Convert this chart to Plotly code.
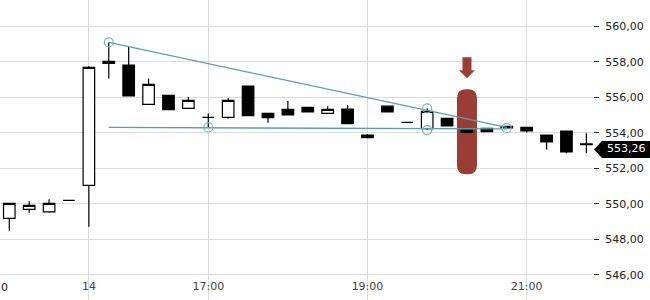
import plotly.graph_objects as go

# ---- data (15-minute candles) ----
times = ["14:30", "14:45", "15:00", "15:15", "15:30", "15:45", "16:00", "16:15",
         "16:30", "16:45", "17:00", "17:15", "17:30", "17:45", "18:00", "18:15",
         "18:30", "18:45", "19:00", "19:15", "19:30", "19:45", "20:00", "20:15",
         "20:30", "20:45", "21:00", "21:15", "21:30", "21:45"]
opens = [549.18, 549.68, 549.55, 550.19, 551.04, 557.91, 557.81, 555.60,
         556.11, 555.37, 554.87, 554.87, 556.63, 555.09, 555.32, 555.43,
         555.09, 555.34, 553.87, 555.50, 554.59, 554.23, 554.81, 554.02,
         554.25, 554.36, 554.30, 553.87, 554.10, 553.37]
highs = [550.02, 550.14, 550.26, 550.19, 557.76, 559.09, 558.85, 557.06,
         556.11, 556.01, 555.09, 555.95, 556.63, 555.09, 555.79, 555.43,
         555.50, 555.56, 553.93, 555.50, 554.59, 555.37, 554.81, 554.15,
         554.25, 554.36, 554.30, 553.87, 554.10, 553.97]
lows = [548.48, 549.49, 549.49, 550.19, 548.70, 557.06, 556.08, 555.60,
        555.30, 555.37, 554.30, 554.79, 554.96, 554.56, 555.01, 555.18,
        555.09, 554.51, 553.72, 555.18, 554.59, 554.15, 554.39, 553.97,
        554.06, 554.28, 554.02, 553.06, 552.84, 552.84]
closes = [550.02, 549.91, 550.02, 550.19, 557.68, 558.02, 556.08, 556.73,
          555.30, 555.83, 554.87, 555.83, 554.96, 554.85, 555.01, 555.18,
          555.32, 554.51, 553.72, 555.18, 554.59, 555.21, 554.39, 554.15,
          554.06, 554.28, 554.11, 553.49, 552.93, 553.33]
last_quote = 553.26

# trend lines and touch points
upper_t = ["15:45", "20:45"]
upper_p = [559.09, 554.30]
lower_t = ["15:45", "20:45"]
lower_p = [554.30, 554.22]
touch_t = ["15:45", "17:00", "19:45", "19:45", "20:45"]
touch_p = [559.09, 554.30, 555.37, 554.15, 554.26]

signal_t = "20:15"  # highlighted candle

x_tickvals = ["15:30", "17:00", "19:00", "21:00"]
x_ticktext = ["14", "17:00", "19:00", "21:00"]
x_range = ["14:23", "21:50"]
y_range = [544.58, 561.48]


def h(s):
    a, b = s.split(":")
    return int(a) + int(b) / 60.0


X = [h(t) for t in times]
idx = times.index(signal_t)

teal = "#5c9ea5"
red = "#9b3c37"
font = "DejaVu Sans"

fig = go.Figure()
fig.add_trace(go.Candlestick(
    x=X, open=opens, high=highs, low=lows, close=closes,
    increasing=dict(line=dict(color="black", width=1.2), fillcolor="white"),
    decreasing=dict(line=dict(color="black", width=1.2), fillcolor="black"),
    whiskerwidth=0, hoverinfo="skip", showlegend=False,
))
fig.add_trace(go.Scatter(x=[h(t) for t in upper_t], y=upper_p, mode="lines",
                         line=dict(color=teal, width=1.3), showlegend=False, hoverinfo="skip"))
fig.add_trace(go.Scatter(x=[h(t) for t in lower_t], y=lower_p, mode="lines",
                         line=dict(color=teal, width=1.3), showlegend=False, hoverinfo="skip"))
fig.add_trace(go.Scatter(x=[h(t) for t in touch_t], y=touch_p, mode="markers",
                         marker=dict(symbol="circle-open", size=9, color="#7fb3b8",
                                     line=dict(width=1.2)),
                         showlegend=False, hoverinfo="skip"))

ymid = (opens[idx] + closes[idx]) / 2
shapes = [
    # highlight stadium around the signal candle
    dict(type="path", xref="x", yref="y", xsizemode="pixel", ysizemode="pixel",
         xanchor=X[idx], yanchor=ymid, layer="between",
         path="M -10,-34 L -10,33 Q -10,42 -1,42 L 1,42 Q 10,42 10,33 L 10,-34 "
              "Q 10,-43 1,-43 L -1,-43 Q -10,-43 -10,-34 Z",
         fillcolor=red, line=dict(width=0)),
    # down arrow above it
    dict(type="path", xref="x", yref="y", xsizemode="pixel", ysizemode="pixel",
         xanchor=X[idx], yanchor=ymid, layer="above",
         path="M -4.5,74 L 4.5,74 L 4.5,61 L 8,61 L 0,53 L -8,61 L -4.5,61 Z",
         fillcolor=red, line=dict(width=0)),
    # last-price tag
    dict(type="path", xref="paper", yref="y", xsizemode="pixel", ysizemode="pixel",
         xanchor=1, yanchor=last_quote, layer="above",
         path="M 1,-3.5 L 9,4.8 L 60,4.8 L 60,-12 L 9,-12 Z",
         fillcolor="black", line=dict(width=0)),
]
# white masks behind x tick labels (gridlines stop at labels)
for tv, tt in zip(x_tickvals, x_ticktext):
    half = (len(tt) * 3.6 + 3) / 79.6
    shapes.append(dict(type="rect", xref="x", yref="paper", layer="between",
                       x0=h(tv) - half, x1=h(tv) + half, y0=0.023, y1=0.06,
                       fillcolor="white", line=dict(width=0)))

fig.update_layout(
    width=650, height=300,
    margin=dict(l=0, r=57, t=0, b=0),
    paper_bgcolor="white", plot_bgcolor="white",
    separators=",.",
    boxgap=0.42, boxgroupgap=0,
    font=dict(family=font, size=11, color="#222"),
    shapes=shapes,
    annotations=[
        dict(text=f"{last_quote:.2f}".replace(".", ","), xref="paper", yref="y",
             x=1, y=last_quote, xanchor="left", yanchor="middle", xshift=12, yshift=-3,
             showarrow=False, font=dict(family=font, size=11, color="white")),
        dict(text="0", xref="paper", yref="paper", x=0, y=0.042,
             xanchor="left", yanchor="middle", xshift=-1, showarrow=False,
             font=dict(family=font, size=11, color="#222")),
    ],
    xaxis=dict(range=[h(x_range[0]), h(x_range[1])], tickvals=[h(t) for t in x_tickvals],
               ticktext=x_ticktext, ticklabelposition="inside", ticks="",
               ticklabelstandoff=5,
               showgrid=True, gridcolor="#dcdcdc", gridwidth=1, zeroline=False,
               showline=False, rangeslider=dict(visible=False), fixedrange=True),
    yaxis=dict(side="right", range=y_range, dtick=2, tick0=546, tickformat=".2f",
               showgrid=True, gridcolor="#dcdcdc", gridwidth=1, zeroline=False,
               ticks="outside", ticklen=5, tickcolor="#222", ticklabelstandoff=4,
               showline=False, fixedrange=True),
)

fig.write_html("out.html")
